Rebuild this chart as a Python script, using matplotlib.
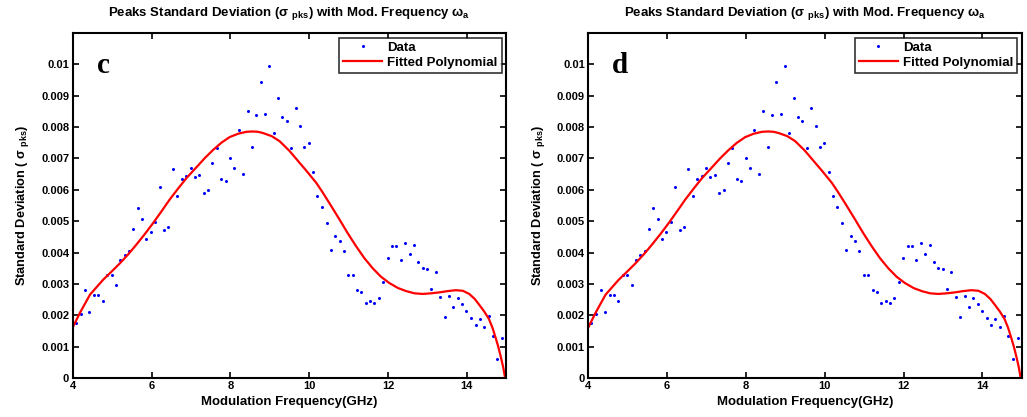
import matplotlib
matplotlib.use("Agg")
import matplotlib.pyplot as plt
from matplotlib.lines import Line2D

# ---- data ----
freq_data = [4.08, 4.20, 4.31, 4.42, 4.54, 4.65, 4.76, 4.88, 4.99, 5.10,
             5.20, 5.32, 5.43, 5.53, 5.65, 5.76, 5.87, 5.98, 6.10, 6.21,
             6.32, 6.43, 6.54, 6.65, 6.77, 6.88, 6.99, 7.10, 7.21, 7.32,
             7.43, 7.54, 7.65, 7.76, 7.88, 7.99, 8.10, 8.21, 8.32, 8.44,
             8.55, 8.66, 8.77, 8.88, 8.99, 9.10, 9.22, 9.32, 9.43, 9.55,
             9.66, 9.77, 9.88, 9.99, 10.10, 10.21, 10.32, 10.44, 10.55, 10.66,
             10.77, 10.88, 10.99, 11.10, 11.22, 11.32, 11.43, 11.54, 11.65, 11.76,
             11.88, 11.99, 12.10, 12.21, 12.32, 12.44, 12.55, 12.66, 12.77, 12.88,
             12.99, 13.10, 13.21, 13.32, 13.44, 13.55, 13.66, 13.77, 13.88, 13.99,
             14.11, 14.22, 14.33, 14.44, 14.55, 14.66, 14.77, 14.89, 15.00]
std_data = [0.00175, 0.00204, 0.00280, 0.00209, 0.00266, 0.00266, 0.00244, 0.00330, 0.00330, 0.00295,
            0.00375, 0.00393, 0.00406, 0.00475, 0.00541, 0.00508, 0.00442, 0.00465, 0.00497, 0.00610,
            0.00471, 0.00481, 0.00667, 0.00581, 0.00635, 0.00645, 0.00670, 0.00640, 0.00648, 0.00589,
            0.00600, 0.00684, 0.00732, 0.00634, 0.00628, 0.00700, 0.00670, 0.00792, 0.00651, 0.00851,
            0.00736, 0.00837, 0.00944, 0.00841, 0.00996, 0.00780, 0.00894, 0.00833, 0.00821, 0.00732,
            0.00860, 0.00802, 0.00737, 0.00748, 0.00658, 0.00581, 0.00546, 0.00495, 0.00408, 0.00453,
            0.00436, 0.00406, 0.00327, 0.00330, 0.00281, 0.00275, 0.00240, 0.00244, 0.00240, 0.00255,
            0.00307, 0.00382, 0.00422, 0.00422, 0.00376, 0.00430, 0.00395, 0.00424, 0.00370, 0.00352,
            0.00348, 0.00283, 0.00338, 0.00258, 0.00195, 0.00262, 0.00227, 0.00256, 0.00236, 0.00215,
            0.00192, 0.00169, 0.00187, 0.00162, 0.00198, 0.00135, 0.00061, 0.00129, 0.00061]

freq_fit = [4.00, 4.18, 4.44, 4.77, 5.00, 5.20, 5.42, 5.62, 5.83, 6.04,
            6.25, 6.46, 6.68, 6.89, 7.14, 7.35, 7.56, 7.77, 7.98, 8.20,
            8.41, 8.57, 8.70, 8.83, 9.05, 9.25, 9.50, 9.75, 9.92, 10.18,
            10.34, 10.55, 10.77, 10.98, 11.19, 11.40, 11.61, 11.82, 12.03, 12.25,
            12.46, 12.67, 12.88, 13.09, 13.30, 13.51, 13.72, 13.90, 14.06, 14.20,
            14.31, 14.44, 14.56, 14.65, 14.73, 14.80, 14.86, 14.92, 14.97]
std_fit = [0.00161, 0.00207, 0.00266, 0.00313, 0.00341, 0.00366, 0.00396, 0.00426, 0.00459, 0.00494,
           0.00531, 0.00569, 0.00605, 0.00638, 0.00672, 0.00701, 0.00727, 0.00750, 0.00768, 0.00779,
           0.00785, 0.00786, 0.00785, 0.00781, 0.00771, 0.00755, 0.00724, 0.00687, 0.00662, 0.00622,
           0.00592, 0.00550, 0.00505, 0.00461, 0.00420, 0.00382, 0.00350, 0.00323, 0.00303, 0.00287,
           0.00277, 0.00270, 0.00268, 0.00270, 0.00273, 0.00277, 0.00280, 0.00278, 0.00268, 0.00252,
           0.00234, 0.00212, 0.00188, 0.00160, 0.00128, 0.00098, 0.00068, 0.00035, 0.00000]

x_ticks = [4, 6, 8, 10, 12, 14]
y_ticks = [0, 0.001, 0.002, 0.003, 0.004, 0.005, 0.006, 0.007, 0.008, 0.009, 0.01]
y_tick_labels = ["0", "0.001", "0.002", "0.003", "0.004", "0.005", "0.006", "0.007", "0.008", "0.009", "0.01"]
panel_letters = ["c", "d"]

title_text = "Peaks Standard Deviation (\u03c3 $_{pks}$) with Mod. Frequency \u03c9$_{a}$"
xlabel_text = "Modulation Frequency(GHz)"
ylabel_text = "Standard Deviation ( \u03c3 $_{pks}$)"

plt.rcParams["font.family"] = ["Liberation Sans", "DejaVu Sans"]
plt.rcParams["font.weight"] = "bold"
plt.rcParams["mathtext.fontset"] = "custom"
plt.rcParams["mathtext.rm"] = "Liberation Sans:bold"
plt.rcParams["mathtext.it"] = "Liberation Sans:bold"
plt.rcParams["mathtext.bf"] = "Liberation Sans:bold"
plt.rcParams["mathtext.default"] = "rm"

fig = plt.figure(figsize=(10.27, 4.17), dpi=100)
W, H = 1027.0, 417.0
lefts_px = [72.7, 588.3]
ax_w_px = 433.6
top_px, bot_px = 33.0, 378.0

for left_px, letter in zip(lefts_px, panel_letters):
    ax = fig.add_axes([left_px / W, (H - bot_px) / H, ax_w_px / W, (bot_px - top_px) / H])
    ax.plot(freq_data, std_data, linestyle="none", marker="o", markersize=2.2,
            markeredgewidth=0, color="#0000ff", label="Data")
    ax.plot(freq_fit, std_fit, color="#ff0000", linewidth=1.6, label="Fitted Polynomial")
    ax.set_xlim(4, 15)
    ax.set_ylim(0, 0.011)
    ax.set_xticks(x_ticks)
    ax.set_xticklabels([str(t) for t in x_ticks], fontsize=8, fontweight="bold")
    ax.set_yticks(y_ticks)
    ax.set_yticklabels(y_tick_labels, fontsize=8, fontweight="bold")
    ax.tick_params(direction="in", length=4, width=1.2, top=True, right=True, pad=2.5)
    for sp in ax.spines.values():
        sp.set_linewidth(1.5)
    ax.set_title(title_text, fontsize=9.5, fontweight="bold", pad=12)
    ax.set_xlabel(xlabel_text, fontsize=9.5, fontweight="bold", labelpad=3)
    ax.set_ylabel(ylabel_text, fontsize=9.2, fontweight="bold", labelpad=7)
    ax.text(0.055, 0.905, letter, transform=ax.transAxes, fontsize=21, fontweight="bold",
            family=["Liberation Serif"], ha="left", va="center")
    handles = [Line2D([], [], linestyle="none", marker="o", markersize=2.2,
                      markeredgewidth=0, color="#0000ff"),
               Line2D([], [], color="#ff0000", linewidth=1.6)]
    leg = ax.legend(handles, ["Data", "Fitted Polynomial"], loc="upper right",
                    fontsize=9.5, frameon=True, fancybox=False, borderaxespad=0.35,
                    handlelength=2.95, handletextpad=0.4, borderpad=0.3, labelspacing=0.2)
    leg.get_frame().set_edgecolor("black")
    leg.get_frame().set_linewidth(1.2)
    for t in leg.get_texts():
        t.set_fontweight("bold")

fig.savefig("out.png", dpi=100)
